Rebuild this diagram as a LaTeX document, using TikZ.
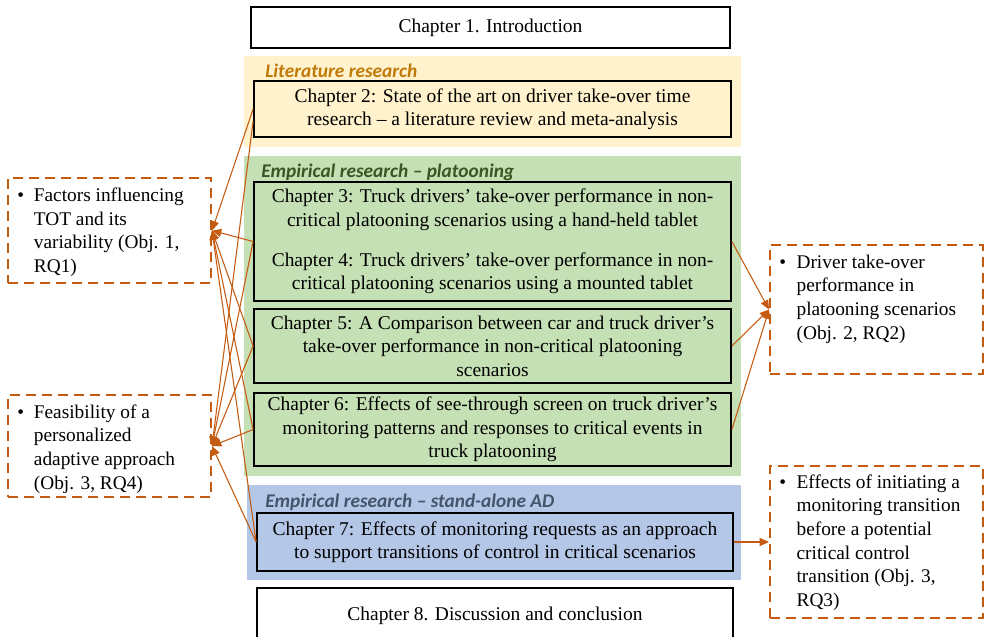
\documentclass[tikz,border=0pt]{standalone}
\usepackage{fontspec}
\setmainfont{Liberation Serif}
\newfontfamily\titlefont{Carlito}
\usetikzlibrary{arrows.meta}
\definecolor{litbg}{HTML}{FFF2CC}
\definecolor{empbg}{HTML}{C5E0B4}
\definecolor{adbg}{HTML}{B4C7E7}
\definecolor{littx}{HTML}{C07A08}
\definecolor{emptx}{HTML}{385723}
\definecolor{adtx}{HTML}{44546A}
\definecolor{arr}{HTML}{C55A11}
\begin{document}
\begin{tikzpicture}[x=0.75pt,y=-0.75pt,
  chbox/.style={draw=black, line width=1.3pt, inner sep=0pt, align=center, font=\fontsize{14.6}{17.6}\selectfont},
  sz/.style 2 args={minimum width=#1*0.75pt, minimum height=#2*0.75pt},
  objbox/.style={draw=arr, line width=1.5pt, dash pattern=on 7.5pt off 4.5pt, inner sep=0pt},
  objtext/.style={anchor=north west, inner sep=0pt, font=\fontsize{14.5}{17.7}\selectfont},
  bandtitle/.style={anchor=base west, inner sep=0pt, font=\fontsize{14.5}{17}\selectfont\titlefont\bfseries\itshape},
  link/.style={draw=arr, line width=0.8pt, -{Triangle[length=7pt,width=6pt]}}
]
\useasboundingbox (0,0) rectangle (985,636);

% bands
\fill[litbg] (244,56) rectangle (741,147);
\fill[empbg] (244,156) rectangle (741,476);
\fill[adbg] (247,485) rectangle (741,580);

\node[bandtitle, text=littx] (tlit) at (265,77) {Literature research};
\node[bandtitle, text=emptx] (temp) at (261,177) {Empirical research – platooning};
\node[bandtitle, text=adtx] (tad) at (265,507) {Empirical research – stand-alone AD};

% chapters
\node[chbox, sz={479}{41}] (ch1) at (490.5,27.5) {Chapter 1. Introduction};
\node[chbox, sz={477}{56}] (ch2) at (492.5,109) {Chapter 2: State of the art on driver take-over time\\research – a literature review and meta-analysis};
\node[chbox, sz={477}{119}] (ch34) at (492.5,241.5) {Chapter 3: Truck drivers’ take-over performance in non-\\critical platooning scenarios using a hand-held tablet\\[12.5pt]Chapter 4: Truck drivers’ take-over performance in non-\\critical platooning scenarios using a mounted tablet};
\node[chbox, sz={477}{74}] (ch5) at (492.5,346) {Chapter 5: A Comparison between car and truck driver’s\\take-over performance in non-critical platooning\\scenarios};
\node[chbox, sz={477}{73}] (ch6) at (492.5,429.5) {Chapter 6: Effects of see-through screen on truck driver’s\\monitoring patterns and responses to critical events in\\truck platooning};
\node[chbox, sz={476}{58}] (ch7) at (495,542) {Chapter 7: Effects of monitoring requests as an approach\\to support transitions of control in critical scenarios};
\node[chbox, sz={476}{56}] (ch8) at (495,616) {Chapter 8. Discussion and conclusion};

% objective boxes
\node[objbox, sz={203}{105}] (fac) at (109.5,230.5) {};
\node[objbox, sz={203}{102}] (feas) at (109.5,446) {};
\node[objbox, sz={213}{129}] (drv) at (876.5,309.5) {};
\node[objbox, sz={213}{152}] (eff) at (876.5,542) {};

\node[objtext] (facT) at (17,185) {\begin{tabular}{@{}p{12.5pt}@{}l@{}}\textbullet & Factors influencing\\ & TOT and its\\ & variability (Obj. 1,\\ & RQ1)\end{tabular}};
\node[objtext] (feasT) at (17,401.5) {\begin{tabular}{@{}p{12.5pt}@{}l@{}}\textbullet & Feasibility of a\\ & personalized\\ & adaptive approach\\ & (Obj. 3, RQ4)\end{tabular}};
\node[objtext] (drvT) at (779,251.5) {\begin{tabular}{@{}p{13pt}@{}l@{}}\textbullet & Driver take-over\\ & performance in\\ & platooning scenarios\\ & (Obj. 2, RQ2)\end{tabular}};
\node[objtext] (effT) at (779,471.5) {\begin{tabular}{@{}p{13pt}@{}l@{}}\textbullet & Effects of initiating a\\ & monitoring transition\\ & before a potential\\ & critical control\\ & transition (Obj. 3,\\ & RQ3)\end{tabular}};

% connectors
\draw[link] (ch2.west) -- (fac.east);
\draw[link] ([yshift=-9pt]ch2.west) -- (feas.east);
\foreach \c in {ch34,ch5,ch6,ch7}{
  \draw[link] (\c.west) -- (fac.east);
  \draw[link] (\c.west) -- (feas.east);
}
\draw[link] (ch34.east) -- (drv.west);
\draw[link] (ch5.east) -- (drv.west);
\draw[link] (ch6.east) -- (drv.west);
\draw[link] (ch7.east) -- (eff.west);
\end{tikzpicture}
\end{document}
